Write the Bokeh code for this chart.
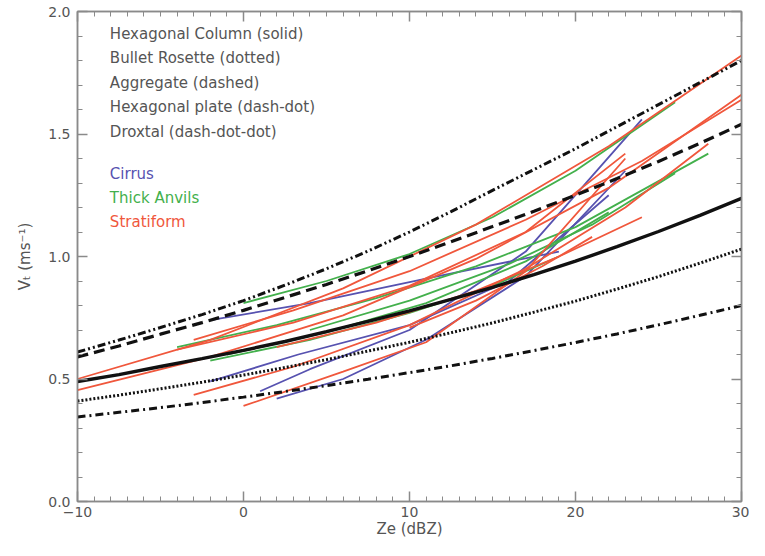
from bokeh.plotting import figure
from bokeh.models import (Range1d, LinearAxis, SingleIntervalTicker, PrintfTickFormatter,
                          CustomJSTickFormatter, Label)
from bokeh.embed import file_html
from bokeh.resources import INLINE

# ---- data ----
ze_grid = [-10, -7.5, -5, -2.5, 0, 2.5, 5, 7.5, 10, 12.5, 15, 17.5, 20, 22.5, 25, 27.5, 30]
hex_column = [0.49, 0.518, 0.551, 0.583, 0.617, 0.653, 0.693, 0.735, 0.778, 0.825, 0.874,
              0.926, 0.981, 1.040, 1.102, 1.168, 1.237]
bullet_rosette = [0.41, 0.434, 0.460, 0.487, 0.516, 0.547, 0.579, 0.614, 0.650, 0.689, 0.729,
                  0.773, 0.818, 0.867, 0.918, 0.973, 1.03]
aggregate = [0.59, 0.635, 0.683, 0.73, 0.78, 0.833, 0.886, 0.942, 1.00, 1.06, 1.122, 1.185,
             1.25, 1.318, 1.388, 1.462, 1.54]
hex_plate = [0.345, 0.364, 0.383, 0.404, 0.426, 0.449, 0.473, 0.499, 0.526, 0.554, 0.584,
             0.616, 0.649, 0.684, 0.721, 0.760, 0.80]
droxtal = [0.61, 0.659, 0.71, 0.763, 0.82, 0.883, 0.95, 1.022, 1.10, 1.183, 1.27, 1.355,
           1.44, 1.53, 1.62, 1.71, 1.80]

cirrus_ze = [[-2, 4, 11, 19], [-2, 3.3, 10, 16, 22], [1, 4, 10, 17, 24], [2, 6, 11, 17, 23]]
cirrus_vt = [[0.74, 0.81, 0.91, 1.02], [0.49, 0.60, 0.72, 0.90, 1.25],
             [0.45, 0.54, 0.70, 1.02, 1.56], [0.42, 0.50, 0.66, 0.92, 1.35]]

anvil_ze = [[0, 5, 10, 15, 20, 26], [-4, 2, 8, 14, 20, 28], [-2, 4, 10, 15, 19],
            [4, 10, 16, 21, 26], [-1, 5, 11, 17, 22]]
anvil_vt = [[0.81, 0.90, 1.01, 1.16, 1.35, 1.63], [0.63, 0.72, 0.83, 0.96, 1.12, 1.42],
            [0.575, 0.66, 0.77, 0.88, 1.00], [0.70, 0.82, 0.97, 1.13, 1.34],
            [0.60, 0.69, 0.81, 0.98, 1.18]]

strat_ze = [[-10, -2, 6, 14, 22, 30], [-10, -2, 6, 14, 22, 30], [-3, 3, 10, 17, 24, 30],
            [-3, 3, 10, 17, 23, 28], [0, 6, 11, 17, 23], [2, 8, 14, 19, 24],
            [10, 14, 18, 21], [-4, 3, 10, 17, 23]]
strat_vt = [[0.50, 0.66, 0.87, 1.13, 1.45, 1.82], [0.455, 0.59, 0.76, 0.99, 1.28, 1.66],
            [0.66, 0.78, 0.94, 1.15, 1.39, 1.64], [0.435, 0.55, 0.72, 0.95, 1.20, 1.46],
            [0.39, 0.53, 0.65, 0.94, 1.40], [0.63, 0.73, 0.86, 1.00, 1.16],
            [0.71, 0.82, 0.96, 1.08], [0.62, 0.73, 0.88, 1.10, 1.42]]

x_tick_text = {-10: "−10", 0: "0", 10: "10", 20: "20", 30: "30"}
habit_labels = ["Hexagonal Column (solid)", "Bullet Rosette (dotted)", "Aggregate (dashed)",
                "Hexagonal plate (dash-dot)", "Droxtal (dash-dot-dot)"]
cloud_labels = ["Cirrus", "Thick Anvils", "Stratiform"]

# ---- styles ----
BLUE = "#5752b0"
GREEN = "#43b04c"
RED = "#f0573c"
GREY = "#555555"
AXIS = "#8a8a8a"
FONT = "DejaVu Sans"

p = figure(width=749, height=540, output_backend="svg", toolbar_location=None,
           x_range=Range1d(-10, 30), y_range=Range1d(0, 2),
           min_border_left=77, min_border_right=8, min_border_top=11, min_border_bottom=37)
p.grid.visible = False
p.outline_line_color = AXIS
p.outline_line_width = 1.5
p.background_fill_color = "white"
p.border_fill_color = "white"

def style_axis(ax, labels=True):
    ax.axis_line_color = AXIS
    ax.axis_line_width = 1.5
    ax.major_tick_line_color = AXIS
    ax.minor_tick_line_color = AXIS
    ax.major_tick_line_width = 1.5
    ax.minor_tick_line_width = 1
    ax.major_tick_in = 10
    ax.major_tick_out = 0
    ax.minor_tick_in = 5
    ax.minor_tick_out = 0
    ax.major_label_text_color = GREY
    ax.major_label_text_font = FONT
    ax.major_label_text_font_size = "14px"
    ax.axis_label_text_color = GREY
    ax.axis_label_text_font = FONT
    ax.axis_label_text_font_size = "15px"
    ax.axis_label_text_font_style = "normal"
    if not labels:
        ax.formatter = CustomJSTickFormatter(code="return ''")
        ax.major_label_text_font_size = "1px"
        ax.major_label_standoff = 0

xt = lambda: SingleIntervalTicker(interval=10, num_minor_ticks=10)
yt = lambda: SingleIntervalTicker(interval=0.5, num_minor_ticks=5)

p.xaxis.ticker = xt()
p.yaxis.ticker = yt()
p.xaxis.formatter = PrintfTickFormatter(format="%d")
p.xaxis.major_label_overrides = x_tick_text
p.yaxis.formatter = PrintfTickFormatter(format="%.1f")
p.xaxis.axis_label = "Ze (dBZ)"
p.yaxis.axis_label = "Vₜ (ms⁻¹)"
style_axis(p.xaxis[0])
style_axis(p.yaxis[0])
p.xaxis.major_label_standoff = 5
p.xaxis.axis_label_standoff = 0
p.yaxis.major_label_standoff = 7
p.yaxis.axis_label_standoff = 11

top = LinearAxis(ticker=xt())
style_axis(top, labels=False)
p.add_layout(top, "above")
right = LinearAxis(ticker=yt())
style_axis(right, labels=False)
p.add_layout(right, "right")

# ---- colored observation curves ----
for xs, ys in zip(cirrus_ze, cirrus_vt):
    p.line(xs, ys, line_color=BLUE, line_width=1.8)
for xs, ys in zip(anvil_ze, anvil_vt):
    p.line(xs, ys, line_color=GREEN, line_width=1.8)
for xs, ys in zip(strat_ze, strat_vt):
    p.line(xs, ys, line_color=RED, line_width=1.8)

# ---- habit curves ----
p.line(ze_grid, hex_column, line_color="#111111", line_width=3.4)
p.line(ze_grid, bullet_rosette, line_color="#111111", line_width=3, line_dash="2 2")
p.line(ze_grid, aggregate, line_color="#111111", line_width=3.2, line_dash="11 6")
p.line(ze_grid, hex_plate, line_color="#111111", line_width=3, line_dash="8 4 2 4")
p.line(ze_grid, droxtal, line_color="#111111", line_width=3, line_dash="8 3 2 3 2 3")

# ---- annotation text ----
label_ze = -8.05
habit_y0 = 1.91
step = 0.1
for i, t in enumerate(habit_labels):
    p.add_layout(Label(x=label_ze, y=habit_y0 - i * step, text=t, text_color=GREY,
                       text_font=FONT, text_font_size="15px", text_baseline="middle"))
cloud_y0 = 1.337
for i, (t, c) in enumerate(zip(cloud_labels, [BLUE, GREEN, RED])):
    p.add_layout(Label(x=label_ze, y=cloud_y0 - i * 0.099, text=t, text_color=c,
                       text_font=FONT, text_font_size="15px", text_baseline="middle"))

open("out.html", "w").write(file_html(p, INLINE))
